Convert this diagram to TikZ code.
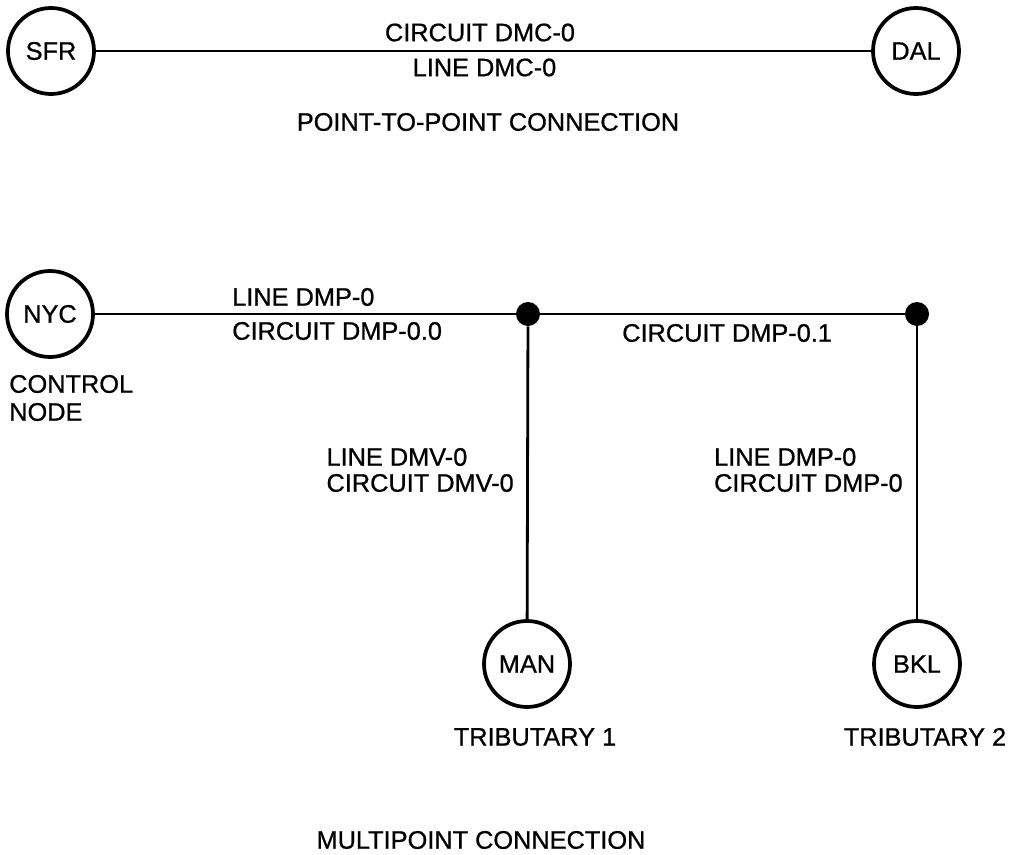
\documentclass[tikz,border=0pt]{standalone}
\usepackage{fontspec}
\setmainfont{Liberation Sans}
\newfontfamily\scanfont[FakeBold=0.8]{Liberation Sans}
\begin{document}
\begin{tikzpicture}[x=0.75pt,y=-0.75pt,
  every node/.style={font=\scanfont\fontsize{19}{22}\selectfont},
  site/.style={circle,draw,line width=2.8pt,minimum size=86*0.75pt,inner sep=0pt},
  dot/.style={circle,fill,minimum size=24*0.75pt,inner sep=0pt},
  lbl/.style={inner sep=0pt},
  link/.style={line width=2.1pt}]
\useasboundingbox (0,0) rectangle (1015,855);
% point-to-point
\node[site] (sfr) at (51,51) {SFR};
\node[site] (dal) at (916,51) {DAL};
\draw[link] (sfr) -- (dal);
\node[lbl] (cdmc) at (480,32.5) {CIRCUIT DMC-0};
\node[lbl] (ldmc) at (484.5,67.5) {LINE DMC-0};
\node[lbl] (p2p) at (488,122) {POINT-TO-POINT CONNECTION};
% multipoint
\node[site] (nyc) at (50,314) {NYC};
\node[dot] (j1) at (528,314) {};
\node[dot] (j2) at (917,314) {};
\node[site] (man) at (527,664) {MAN};
\node[site] (bkl) at (917,664) {BKL};
\draw[link] (nyc) -- (j1) -- (j2);
\draw[link] (j1) -- (man);
\draw[link] (j2) -- (bkl);
\node[lbl,anchor=west] (ldmp) at (232,297) {LINE DMP-0};
\node[lbl,anchor=west] (cdmp00) at (232,331) {CIRCUIT DMP-0.0};
\node[lbl,anchor=west] (cdmp01) at (622,333) {CIRCUIT DMP-0.1};
\node[lbl,anchor=west] (ctl) at (9,384) {CONTROL};
\node[lbl,anchor=west] (nd) at (9,412) {NODE};
\node[lbl,anchor=east] (cdmv) at (514,483) {CIRCUIT DMV-0};
\node[lbl,anchor=west] (ldmv) at (cdmv.west |- 0,457) {LINE DMV-0};
\node[lbl,anchor=east] (cdmp) at (903,483) {CIRCUIT DMP-0};
\node[lbl,anchor=west] (ldmp2) at (cdmp.west |- 0,457) {LINE DMP-0};
\node[lbl] (t1) at (535,737) {TRIBUTARY 1};
\node[lbl] (t2) at (925,737) {TRIBUTARY 2};
\node[lbl] (mp) at (481,840) {MULTIPOINT CONNECTION};
\end{tikzpicture}
\end{document}
